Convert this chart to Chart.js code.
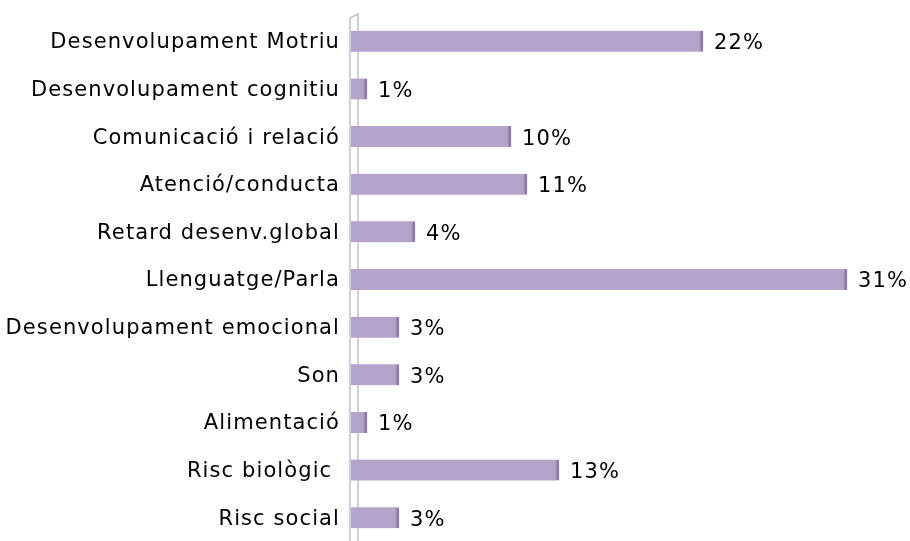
<!DOCTYPE html>
<html>
<head>
<meta charset="utf-8">
<script src="https://cdn.jsdelivr.net/npm/chart.js@4/dist/chart.umd.min.js"></script>
<style>
  html, body { margin: 0; padding: 0; background: #fff; overflow: hidden; }
  #wrap { width: 910px; height: 541px; overflow: hidden; }
</style>
</head>
<body>
<div id="wrap"><canvas id="areasChart" width="910" height="545"></canvas></div>
<script>
// Categories, top to bottom
const categories = [
  'Desenvolupament Motriu',
  'Desenvolupament cognitiu',
  'Comunicació i relació',
  'Atenció/conducta',
  'Retard desenv.global',
  'Llenguatge/Parla',
  'Desenvolupament emocional',
  'Son',
  'Alimentació',
  'Risc biològic ',
  'Risc social'
];
// Percentages
const percents = [22, 1, 10, 11, 4, 31, 3, 3, 1, 13, 3];

const FONT = '"DejaVu Sans", sans-serif';
const SPACING = '1.1px';
const BAR_LIFT = 1.5; // 3D bars sit a little above their labels

// the original text is wider than any installed font, so space the letters a bit
const letterSpacing = {
  id: 'letterSpacing',
  beforeUpdate(chart) { chart.ctx.letterSpacing = SPACING; },
  beforeDraw(chart) { chart.ctx.letterSpacing = SPACING; }
};

// draws the 3D "wall" at the left of the plot
const wallPlugin = {
  id: 'wall',
  beforeDatasetsDraw(chart) {
    const ctx = chart.ctx;
    const x = chart.chartArea.left;
    ctx.save();
    ctx.strokeStyle = '#c4bccf';
    ctx.lineWidth = 1.5;
    ctx.beginPath();
    ctx.moveTo(x - 1, chart.height);
    ctx.lineTo(x - 1, 18);
    ctx.lineTo(x + 7, 14);
    ctx.lineTo(x + 7, chart.height);
    ctx.stroke();
    ctx.restore();
    // lift the bars
    ctx.save();
    ctx.translate(0, -BAR_LIFT);
  },
  afterDatasetsDraw(chart) {
    chart.ctx.restore();
  }
};

// value labels after each bar
const valueLabels = {
  id: 'valueLabels',
  afterDatasetsDraw(chart) {
    const ctx = chart.ctx;
    const meta = chart.getDatasetMeta(0);
    ctx.save();
    ctx.font = '21px ' + FONT;
    ctx.fillStyle = '#000';
    ctx.textBaseline = 'middle';
    meta.data.forEach((bar, i) => {
      ctx.fillText(percents[i] + '%', bar.x + 11, bar.y + 1);
    });
    ctx.restore();
  }
};

new Chart(document.getElementById('areasChart'), {
  type: 'bar',
  data: {
    labels: categories,
    datasets: [{
      data: percents,
      backgroundColor: '#b4a4cc',
      borderColor: '#8d80a6',
      borderWidth: { top: 0, right: 3, bottom: 0, left: 0 },
      borderSkipped: false,
      barThickness: 21
    }]
  },
  options: {
    indexAxis: 'y',
    responsive: false,
    animation: false,
    layout: { padding: { top: 19, right: 15, bottom: 2, left: 0 } },
    plugins: {
      legend: { display: false },
      tooltip: { enabled: false }
    },
    scales: {
      x: {
        min: 0,
        max: 34,
        display: false
      },
      y: {
        grid: { display: false, drawTicks: false },
        border: { display: false },
        ticks: {
          color: '#000',
          padding: 11,
          font: { family: FONT, size: 21 }
        },
        afterFit(scale) {
          scale.width = 351;
          scale.paddingTop = 0;
          scale.paddingBottom = 0;
        }
      }
    }
  },
  plugins: [letterSpacing, wallPlugin, valueLabels]
});
</script>
</body>
</html>
